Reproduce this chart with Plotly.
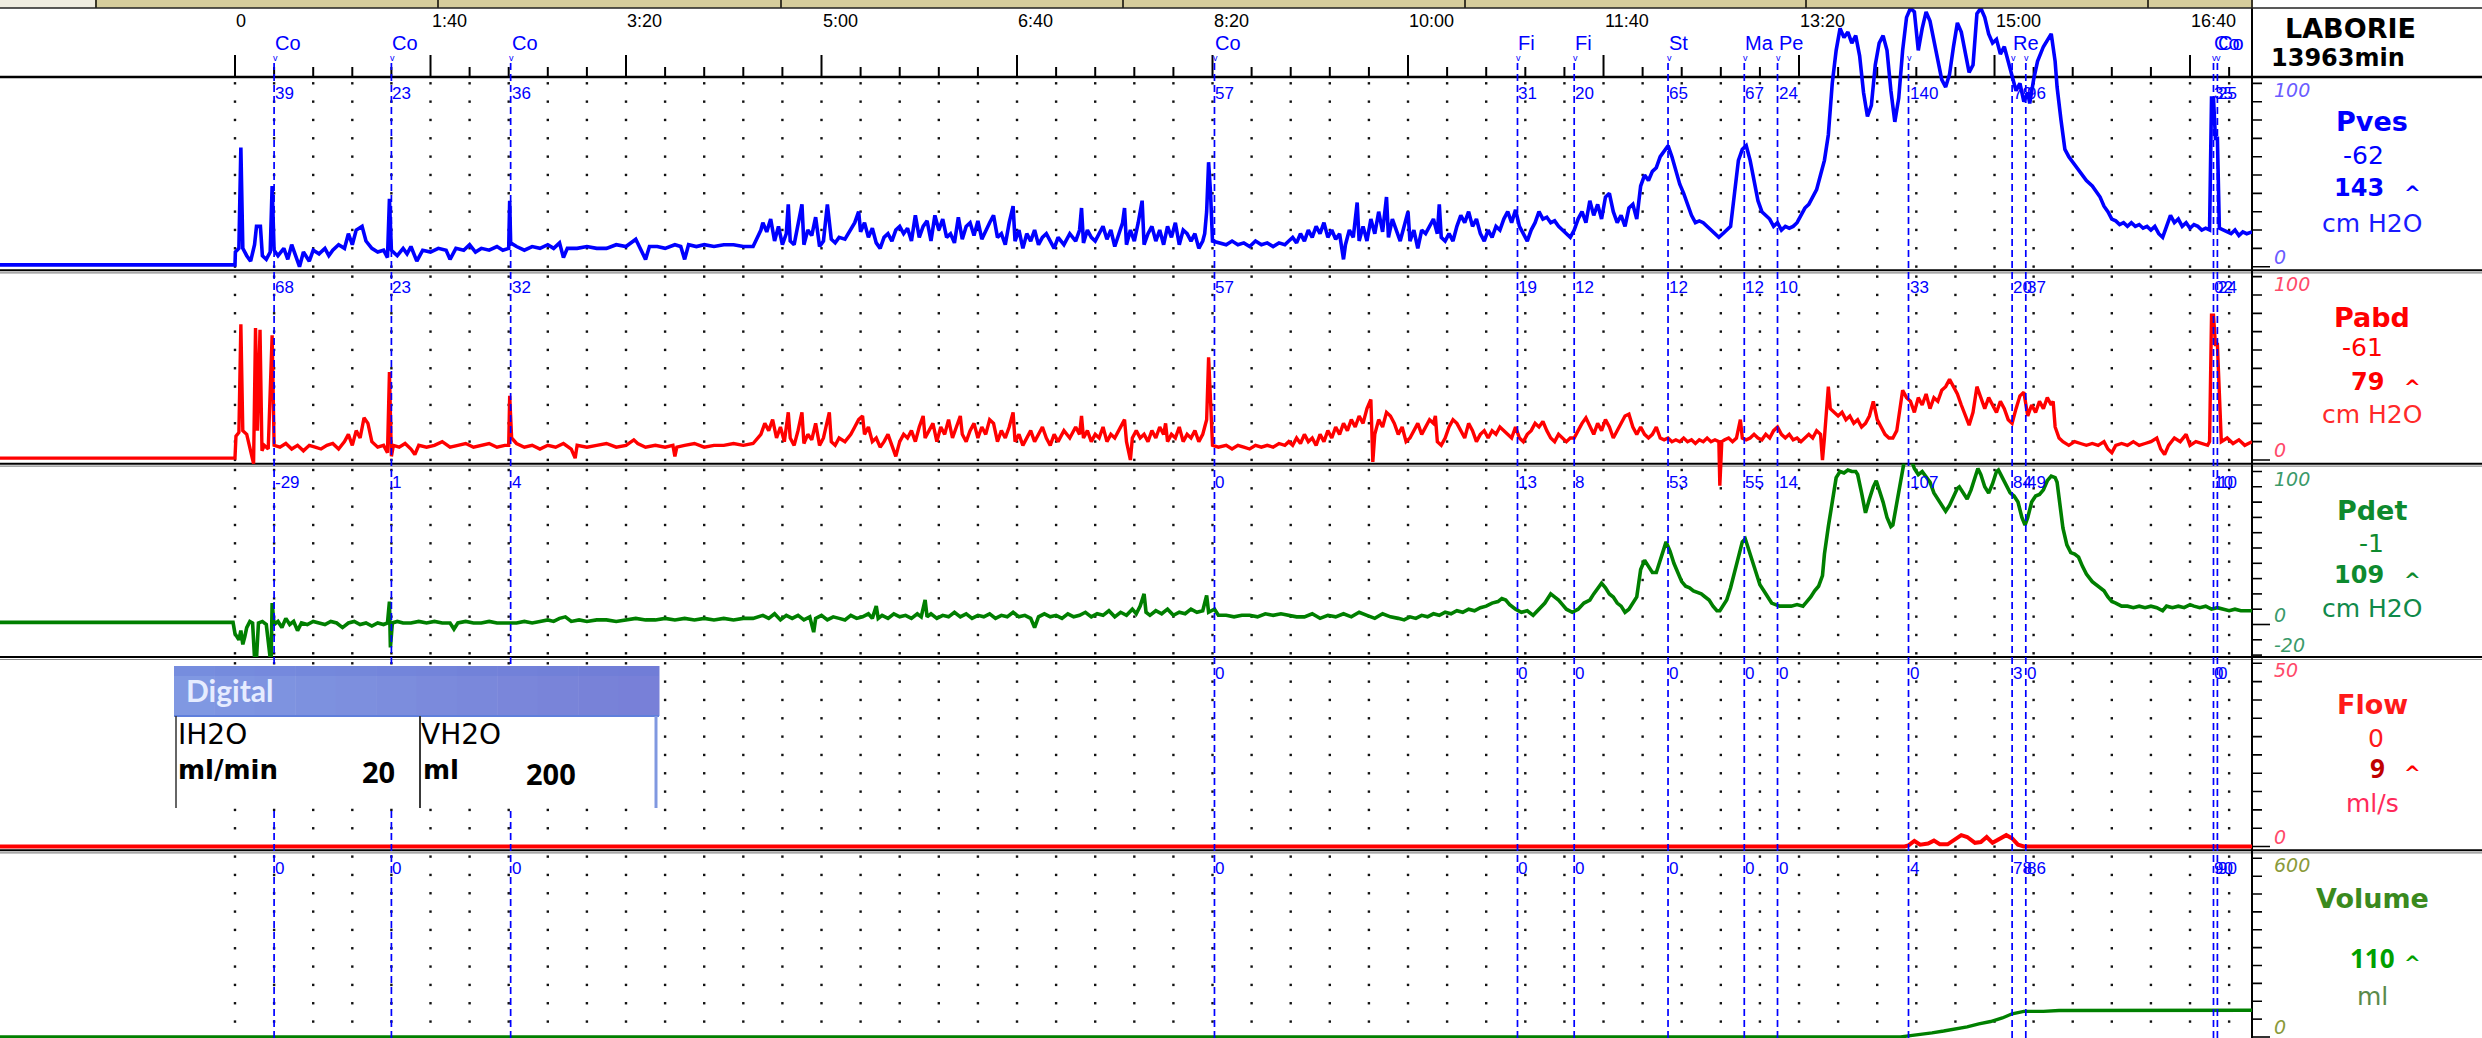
import plotly.graph_objects as go

W, H = 2482, 1038
X_RIGHT = 2252
T_MIN, T_MAX = -120.2, 1031.7

# ---------------- data ----------------
TICK_SECONDS = [0, 100, 200, 300, 400, 500, 600, 700, 800, 900, 1000]
TICK_LABELS = ["0", "1:40", "3:20", "5:00", "6:40", "8:20", "10:00", "11:40", "13:20", "15:00", "16:40"]

MARK_T = [20, 80, 141, 501, 656, 685, 733, 772, 789, 856, 909, 916, 1012, 1014]
MARK_NAME = ["Co", "Co", "Co", "Co", "Fi", "Fi", "St", "Ma", "Pe", "", "Re", "", "Co", "Co"]
PVES_LBL = ["39", "23", "36", "57", "31", "20", "65", "67", "24", "140", "79", "96", "35", "25"]
PABD_LBL = ["68", "23", "32", "57", "19", "12", "12", "12", "10", "33", "20", "37", "02", "24"]
PDET_LBL = ["-29", "1", "4", "0", "13", "8", "53", "55", "14", "107", "84", "49", "10", "10"]
FLOW_LBL = ["", "", "", "0", "0", "0", "0", "0", "0", "0", "3", "0", "0", "0"]
VOL_LBL = ["0", "0", "0", "0", "0", "0", "0", "0", "0", "4", "78", "86", "90", "90"]

PVES = [
    (-120.2, 1), (0, 1), (0.2, 8), (2, 10), (3, 65), (4, 10), (6, 6), (8, 3), (10, 12), (11, 22), (13, 22), (14, 6), (16, 4), (18, 8), (19, 44), (20, 9), (22, 6), (25, 10), (27, 4), (29, 12), (31, 6), (33, 0), (35, 8), (38, 3), (40, 9), (43, 7), (46, 10), (48, 6), (50, 9), (53, 12), (56, 10), (58, 18), (60, 12), (62, 20), (65, 22), (67, 14), (70, 10), (73, 8), (76, 9), (78, 5), (79, 37), (80, 9), (83, 6), (86, 10), (88, 7), (90, 11), (93, 3), (96, 9), (100, 8), (104, 10), (108, 9), (110, 4), (113, 10), (117, 9), (120, 12), (123, 8), (126, 10), (130, 9), (134, 11), (137, 9), (140, 10), (140.5, 36), (141, 13), (144, 11), (148, 9), (152, 11), (156, 10), (160, 12), (163, 10), (166, 13), (168, 5), (170, 10), (175, 10), (180, 11), (185, 10), (190, 10), (195, 12), (200, 11), (205, 15), (208, 9), (210, 4), (212, 11), (216, 11), (220, 10), (225, 12), (228, 11), (230, 4), (232, 12), (236, 11), (240, 12), (245, 11), (250, 12), (255, 12), (260, 11), (265, 11),
    (269, 20), (270, 24), (272, 19), (274, 26), (276, 14), (278, 22), (280, 12), (282, 18), (283, 34), (284, 14), (286, 12), (288, 22), (290, 34), (291, 12), (293, 20), (295, 17), (297, 27), (299, 11), (301, 14), (303, 34), (305, 15), (307, 13), (309, 16), (312, 15), (315, 20), (317, 24), (319, 30), (320, 19), (322, 24), (324, 16), (326, 21), (328, 13), (330, 10), (332, 16), (334, 18), (336, 14), (338, 20), (340, 22), (342, 18), (344, 21), (346, 14), (348, 28), (350, 16), (352, 22), (354, 25), (356, 14), (358, 28), (360, 20), (362, 26), (364, 16), (366, 18), (368, 13), (370, 27), (372, 15), (374, 22), (376, 24), (378, 17), (380, 25), (382, 15), (384, 20), (386, 24), (388, 28), (390, 16),
    (392, 18), (394, 12), (396, 24), (398, 33), (399, 14), (401, 20), (403, 10), (405, 18), (407, 14), (409, 20), (411, 12), (413, 16), (415, 18), (417, 14), (419, 10), (421, 16), (424, 12), (427, 18), (430, 14), (432, 20), (433, 32), (434, 13), (436, 20), (438, 16), (440, 14), (442, 18), (444, 22), (446, 15), (448, 20), (450, 11), (452, 18), (454, 24), (455, 32), (456, 12), (458, 20), (460, 14), (462, 24), (464, 36), (465, 12), (467, 18), (469, 22), (471, 14), (473, 20), (475, 12), (477, 22), (479, 16), (481, 24), (483, 12), (485, 20), (487, 18), (489, 14), (491, 18), (493, 10), (495, 14), (496, 18), (497, 30), (498, 57), (499, 40), (500, 14),
    (503, 13), (507, 12), (510, 14), (513, 12), (516, 13), (519, 11), (522, 14), (525, 12), (528, 13), (531, 11), (534, 13), (537, 12), (539, 14), (541, 16), (543, 13), (545, 18), (547, 14), (549, 20), (551, 16), (553, 22), (555, 18), (557, 24), (559, 16), (561, 20), (563, 15), (565, 18), (567, 4), (568, 12), (570, 20), (572, 16), (574, 35), (575, 14), (577, 22), (579, 14), (581, 26), (583, 18), (585, 30), (587, 19), (589, 38), (590, 16), (592, 26), (594, 20), (596, 14), (598, 22), (600, 30), (601, 14), (603, 20), (605, 10), (607, 20), (609, 18), (611, 22), (613, 26), (615, 18), (616, 34), (617, 16), (619, 14), (621, 18), (623, 14), (625, 22), (627, 28), (629, 24), (631, 30), (633, 22), (635, 26), (637, 18), (639, 14), (641, 20), (643, 16), (645, 22), (647, 20), (649, 26), (651, 30), (653, 24), (655, 31), (657, 22), (659, 18), (661, 14), (663, 20), (665, 24), (667, 30), (669, 26), (671, 27), (673, 24), (675, 25), (677, 22), (679, 20), (681, 18), (683, 16), (685, 20), (687, 26), (689, 30), (691, 24), (693, 36), (695, 28), (697, 34), (699, 26), (701, 38), (703, 40), (705, 30), (707, 24), (709, 28), (711, 22), (713, 32), (715, 34), (717, 26),
    (719, 44), (721, 50), (723, 47), (725, 52), (727, 54), (729, 60), (731, 63), (733, 66), (735, 60), (737, 52), (739, 45), (741, 40), (743, 34), (745, 28), (747, 24), (749, 25), (751, 24), (753, 22), (755, 20), (757, 18), (759, 16), (761, 18), (763, 20), (765, 22), (767, 40), (769, 58), (771, 64), (773, 66), (775, 58), (777, 46), (779, 36), (781, 30), (783, 28), (785, 26), (787, 22), (789, 24), (791, 20), (793, 22), (795, 21), (797, 22), (799, 24), (801, 28), (803, 32), (805, 34), (807, 38), (809, 42), (811, 50), (813, 58), (815, 72), (817, 100), (819, 118), (821, 130), (823, 125), (825, 128), (827, 122), (829, 126), (831, 115), (833, 95), (835, 82), (837, 88), (839, 110), (841, 122), (843, 126), (845, 118), (847, 96), (849, 79), (851, 92), (853, 118), (855, 136), (857, 141), (859, 139), (861, 118), (863, 130), (865, 139), (867, 134), (869, 124), (871, 112), (873, 102), (875, 98), (877, 105), (879, 120), (881, 133), (883, 128), (885, 118), (887, 106), (889, 110), (891, 138), (893, 141), (895, 136), (897, 127), (899, 122), (901, 124), (903, 116), (905, 120), (907, 112), (909, 104), (911, 96), (913, 100), (915, 90), (917, 95), (918, 89), (920, 102), (922, 112), (925, 120), (927, 124), (929, 127), (931, 112), (932, 98), (934, 80), (936, 64), (938, 60), (940, 57), (943, 53), (945, 50), (947, 47), (950, 44), (952, 41), (954, 38), (956, 33), (958, 30), (960, 26), (962, 25), (964, 23), (966, 24), (968, 22), (970, 24), (972, 22), (974, 23), (976, 21), (978, 22), (980, 20), (982, 22), (984, 18), (986, 16), (988, 22), (990, 28), (992, 24), (994, 26), (996, 22), (998, 24), (1000, 21), (1002, 23), (1004, 22), (1006, 20), (1008, 21), (1010, 20), (1011, 92), (1012, 92), (1013, 70), (1014, 70), (1015, 21), (1017, 20), (1019, 19), (1021, 18), (1023, 20), (1025, 17), (1027, 19), (1029, 18), (1031.7, 19),
]

PABD = [
    (-120.2, 1), (0, 1), (0.5, 13), (2, 15), (3, 74), (4, 16), (6, 14), (8, 5), (9.5, -2), (10.5, 72), (11.5, 16), (12.8, 71), (13.8, 5), (15, 8), (17, 6), (19, 68), (20, 8), (23, 7), (26, 9), (29, 6), (32, 8), (35, 5), (38, 8), (41, 7), (44, 6), (47, 8), (50, 9), (53, 6), (56, 10), (58, 14), (60, 8), (62, 16), (64, 12), (66, 23), (68, 20), (70, 10), (73, 7), (76, 8), (78, 4), (79, 48), (80, 2), (81, 8), (84, 7), (87, 9), (90, 6), (92, 3), (94, 8), (98, 7), (102, 8), (106, 10), (110, 7), (114, 8), (118, 9), (122, 7), (126, 8), (130, 9), (134, 7), (138, 8), (140, 8), (140.5, 35), (141.5, 12), (144, 9), (148, 7), (152, 8), (156, 6), (160, 8), (164, 7), (168, 9), (172, 6), (174, 1), (175, 8), (180, 7), (185, 8), (190, 9), (195, 7), (200, 8), (204, 11), (206, 9), (210, 7), (215, 8), (220, 7), (224, 8), (225, 2), (226, 7), (230, 8), (235, 9), (240, 7), (245, 8), (250, 8), (255, 9), (260, 8), (265, 9),
    (269, 14), (271, 20), (273, 16), (275, 22), (277, 12), (279, 18), (281, 10), (283, 26), (284, 12), (286, 8), (288, 16), (290, 26), (291, 9), (293, 14), (295, 11), (297, 20), (299, 8), (301, 12), (304, 26), (305, 10), (307, 8), (309, 12), (312, 10), (315, 14), (317, 18), (319, 22), (321, 24), (322, 14), (324, 18), (326, 10), (328, 12), (330, 7), (332, 10), (334, 14), (336, 8), (338, 2), (340, 10), (342, 14), (344, 12), (346, 16), (348, 10), (350, 18), (352, 24), (353, 12), (355, 16), (357, 20), (359, 10), (361, 18), (363, 14), (365, 22), (367, 12), (369, 18), (371, 24), (372, 14), (374, 10), (376, 16), (378, 20), (380, 12), (382, 18), (384, 14), (386, 22), (388, 20), (390, 10),
    (392, 16), (394, 12), (396, 18), (398, 26), (399, 10), (401, 14), (403, 8), (405, 12), (407, 16), (409, 10), (411, 14), (413, 18), (415, 12), (417, 8), (419, 14), (421, 10), (424, 16), (427, 12), (430, 18), (432, 14), (433, 24), (434, 12), (436, 16), (438, 10), (440, 14), (442, 12), (444, 18), (446, 10), (448, 14), (450, 12), (452, 16), (454, 20), (455, 22), (456, 10), (458, 0), (459, 12), (461, 16), (463, 12), (465, 14), (467, 10), (469, 16), (471, 12), (473, 18), (475, 14), (476, 20), (477, 10), (479, 14), (481, 12), (483, 18), (485, 10), (487, 14), (489, 12), (491, 16), (493, 10), (495, 14), (496, 18), (497, 22), (498, 56), (499, 30), (500, 8),
    (503, 7), (507, 8), (510, 6), (513, 8), (516, 7), (519, 6), (522, 8), (525, 7), (528, 8), (531, 7), (534, 9), (537, 8), (539, 10), (541, 8), (543, 12), (545, 9), (547, 14), (549, 10), (551, 12), (553, 8), (555, 14), (557, 10), (559, 16), (561, 12), (563, 18), (565, 14), (567, 20), (569, 16), (571, 22), (573, 18), (575, 24), (577, 20), (579, 28), (581, 33), (582, -1), (583, 14), (585, 22), (587, 18), (589, 26), (591, 24), (593, 20), (595, 14), (597, 18), (599, 10), (601, 12), (603, 16), (605, 20), (607, 14), (609, 18), (611, 22), (613, 20), (614, 24), (615, 10), (617, 8), (619, 12), (621, 18), (623, 22), (625, 20), (627, 16), (629, 12), (631, 20), (633, 16), (635, 10), (637, 14), (639, 16), (641, 12), (643, 16), (645, 14), (647, 18), (649, 16), (651, 14), (653, 12), (655, 18), (657, 12), (659, 10), (661, 14), (663, 16), (665, 20), (667, 18), (669, 21), (671, 16), (673, 12), (675, 10), (677, 14), (679, 12), (681, 10), (683, 12), (685, 12), (687, 16), (689, 20), (691, 23), (693, 18), (695, 14), (697, 20), (699, 16), (701, 22), (703, 18), (705, 12), (707, 16), (709, 20), (711, 24), (713, 25), (715, 18), (717, 14), (719, 18), (721, 14), (723, 12), (725, 14), (727, 18), (729, 12), (731, 11), (733, 12), (735, 10), (737, 11), (739, 10), (741, 12), (743, 10), (745, 11), (747, 9), (749, 11), (751, 10), (753, 12), (755, 10), (757, 11), (759, 10), (759.5, -14), (760.5, 10), (762, 11), (764, 12), (766, 10), (768, 12), (770, 22), (771, 12), (773, 11), (775, 12), (777, 14), (779, 12), (781, 11), (783, 14), (785, 12), (787, 16), (789, 18), (791, 14), (793, 12), (795, 14), (797, 11), (799, 12), (801, 10), (803, 12), (805, 14), (807, 12), (809, 16), (811, 14), (812, 0), (813, 12), (815, 40), (816, 28), (818, 26), (820, 24), (822, 26), (824, 22), (826, 24), (828, 20), (830, 22), (832, 18), (834, 20), (836, 24), (838, 32), (840, 22), (842, 18), (844, 14), (846, 12), (848, 12), (850, 16), (852, 30), (853, 38), (855, 34), (857, 32), (859, 26), (861, 34), (863, 30), (865, 36), (867, 28), (869, 34), (871, 32), (873, 38), (875, 40), (877, 44), (879, 40), (881, 36), (883, 30), (885, 24), (887, 19), (889, 26), (891, 40), (893, 34), (895, 28), (897, 34), (899, 30), (901, 26), (903, 32), (905, 28), (907, 22), (909, 20), (911, 28), (913, 35), (915, 37), (917, 24), (919, 30), (921, 26), (923, 32), (925, 28), (927, 34), (929, 30), (930, 32), (931, 18), (933, 12), (935, 10), (938, 8), (941, 10), (944, 9), (947, 8), (950, 9), (953, 8), (956, 10), (958, 6), (960, 4), (962, 8), (965, 9), (968, 8), (971, 10), (974, 8), (977, 9), (980, 10), (983, 12), (985, 6), (987, 3), (989, 8), (992, 12), (995, 10), (998, 14), (1000, 8), (1003, 10), (1006, 9), (1009, 8), (1010, 10), (1011, 79), (1012, 79), (1013, 63), (1014, 63), (1015, 38), (1016, 10), (1019, 12), (1022, 9), (1025, 11), (1028, 8), (1031.7, 10),
]

PDET = [
    (-120.2, 1.4), (-1, 1.4), (0, -6), (2, -10), (3, -4), (4, -13), (5, -8), (6, -2), (7.6, 2), (9, 1), (10, -22), (11, -22), (12, 1), (14, 2), (16, 0), (18, -22), (18.5, -22), (19, 14), (20, 0), (22, 2), (24, -2), (26, 4), (28, 0), (30, 2), (32, -4), (34, 1), (37, 0), (40, 2), (43, 1), (46, 0), (49, 2), (52, 1), (55, -2), (58, 1), (61, 2), (64, 0), (67, 1), (70, -1), (73, 1), (76, 0), (78, 1), (79, 15), (79.5, -15), (80.5, 1), (83, 2), (86, 1), (90, 1), (94, 2), (98, 1), (102, 2), (106, 1), (110, 1), (112, -3), (114, 1), (118, 2), (122, 1), (126, 1), (130, 2), (134, 1), (138, 1), (141, 1), (144, 1), (148, 2), (152, 1), (156, 2), (160, 3), (163, 2), (166, 4), (169, 5), (172, 2), (176, 3), (180, 2), (185, 3), (190, 3), (195, 2), (200, 3), (205, 4), (210, 3), (215, 3), (220, 4), (225, 3), (230, 4), (235, 3), (240, 4), (245, 3), (250, 4), (255, 3), (260, 4), (265, 4), (270, 6), (273, 4), (276, 7), (279, 3), (282, 6), (285, 4), (288, 6), (291, 3), (294, 5), (296, -5), (297, 4), (300, 6), (303, 3), (306, 5), (309, 4), (312, 3), (315, 6), (318, 4), (321, 5), (324, 7), (326, 4), (328, 12), (329, 4), (331, 6), (334, 4), (337, 7), (340, 5), (343, 6), (346, 4), (349, 7), (351, 5), (353, 16), (354, 5), (356, 7), (359, 4), (362, 6), (365, 5), (368, 8), (371, 5), (374, 7), (377, 4), (380, 6), (383, 5), (386, 7), (389, 4), (392, 6), (395, 5), (398, 8), (401, 5), (404, 6), (407, 4), (409, -2), (411, 5), (414, 7), (417, 5), (420, 6), (423, 4), (426, 7), (429, 5), (432, 6), (435, 8), (438, 5), (441, 7), (444, 6), (447, 9), (450, 5), (453, 8), (456, 6), (459, 10), (461, 7), (463, 12), (465, 20), (466, 8), (468, 6), (471, 9), (474, 7), (477, 10), (480, 6), (483, 8), (486, 7), (489, 10), (492, 8), (495, 9), (497, 19), (498, 8), (501, 10), (503, 6), (507, 6), (511, 5), (515, 6), (519, 6), (523, 5), (527, 7), (531, 6), (535, 7), (539, 6), (543, 5),
    (547, 5), (551, 7), (555, 4), (559, 6), (563, 5), (567, 7), (571, 5), (575, 8), (579, 6), (583, 4), (587, 7), (591, 5), (595, 4), (598, 3), (601, 5), (604, 4), (607, 6), (610, 5), (613, 7), (616, 6), (619, 8), (622, 7), (625, 9), (628, 8), (631, 10), (634, 9), (637, 11), (640, 12), (643, 14), (646, 15), (648, 17), (650, 16), (652, 13), (655, 10), (658, 8), (661, 9), (664, 6), (667, 10), (670, 14), (673, 20), (675, 18), (677, 16), (679, 13), (681, 10), (684, 8), (687, 10), (690, 14), (693, 16), (695, 20), (697, 24), (699, 27), (701, 24), (703, 20), (705, 18), (707, 14), (709, 12), (711, 8), (713, 10), (715, 14), (717, 18), (719, 36), (721, 42), (723, 38), (725, 34), (727, 34), (729, 42), (731, 50), (732, 54), (734, 48), (736, 40), (738, 34), (740, 28), (742, 25), (744, 24), (746, 22), (748, 21), (750, 20), (752, 18), (754, 16), (756, 12), (758, 9), (759.5, 9), (761, 12), (763, 16), (765, 24), (767, 34), (769, 46), (771, 54), (772.5, 56), (774, 50), (776, 42), (778, 34), (780, 26), (782, 22), (784, 18), (786, 14), (788, 13), (790, 12), (793, 12), (796, 12), (799, 13), (802, 12), (804, 15), (806, 18), (808, 22), (810, 25), (812, 32), (813, 46), (815, 64), (817, 80), (819, 96), (821, 100), (823, 99), (825, 101), (827, 100), (829, 100), (830, 98), (832, 86), (834, 73), (836, 82), (838, 90), (839.5, 94), (841, 88), (843, 80), (845, 70), (847, 64), (848, 65), (850, 80), (852, 96), (854, 108), (856, 110), (857, 109), (859, 102), (861, 98), (863, 100), (865, 96), (867, 93), (869, 86), (871, 82), (873, 77), (875, 74), (877, 78), (879, 84), (881, 89), (882, 90), (884, 86), (886, 82), (888, 88), (890, 96), (891.5, 102), (893, 98), (895, 90), (897, 86), (899, 92), (901, 100), (902, 101), (904, 96), (906, 91), (908, 86), (910, 84), (912, 80), (914, 70), (915.6, 65), (917, 70), (919, 80), (921, 84), (923, 85), (925, 88), (927, 94), (929, 97), (931, 96), (932, 93), (934, 72), (935, 63), (937, 52), (939, 47), (941, 46), (943, 44), (945, 38), (947, 33), (950, 28), (953, 25), (956, 22), (958, 18), (960, 15), (962, 14), (965, 12), (968, 12), (971, 11), (974, 12), (977, 11), (980, 12), (983, 11), (986, 9), (988, 12), (991, 11), (994, 12), (997, 11), (1000, 13), (1002, 12), (1005, 11), (1008, 12), (1011, 10), (1014, 11), (1017, 10), (1020, 9), (1023, 10), (1026, 9), (1029, 9), (1031.7, 9),
]

FLOW = [
    (-120.2, 0), (854, 0), (856, 0.3), (859, 1.5), (862, 0.5), (866, 0.8), (869, 1.6), (872, 0.6), (876, 0.6), (880, 2.2), (883, 3.1), (886, 2.6), (890, 1.0), (893, 1.2), (896, 2.6), (899, 1.0), (902, 1.8), (906, 3.1), (909, 2.2), (912, 0.5), (915, 0), (1031.7, 0),
]

VOLUME = [
    (-120.2, 0), (852, 0), (856, 4), (862, 8), (868, 14), (874, 20), (880, 26), (886, 34), (892, 44), (898, 52), (904, 64), (909, 78), (915, 86), (925, 86), (933, 89), (1031.7, 90),
]

CH_NAMES = ["Pves", "Pabd", "Pdet", "Flow", "Volume"]
CH_CUR = ["-62", "-61", "-1", "0", ""]
CH_MAX = ["143", "79", "109", "9", "110"]
CH_UNIT = ["cm H2O", "cm H2O", "cm H2O", "ml/s", "ml"]
CH_TOP_LBL = ["100", "100", "100", "50", "600"]

# ---------------- layout helpers ----------------
def fx(p):
    return p / W

def fy(p):
    return 1 - p / H

# zero pixel row, pixels per unit, domain top px, domain bottom px
GEOM = [
    (266.7, 1.8333, 8.0, 270.3),
    (460.0, 1.8333, 270.3, 490.0),
    (624.5, 1.53, 463.7, 657.0),
    (846.5, 3.664, 657.0, 850.3),
    (1037.0, 0.2978, 850.3, 1038.0),
]
PANEL_TOPS = [77.0, 270.3, 463.7, 657.0, 850.3]
LINE_COLORS = ["#0000ff", "#ff0000", "#007f00", "#ff0000", "#008000"]
LINE_W = [3.6, 3.4, 3.6, 4.0, 3.4]
SERIES = [PVES, PABD, PDET, FLOW, VOLUME]
LBLS = [PVES_LBL, PABD_LBL, PDET_LBL, FLOW_LBL, VOL_LBL]
LBL_Y = [93, 288, 482, 673, 868]

fig = go.Figure()

# grid dots (pixel overlay axis 'y')
dot_x, dot_y = [], []
for top in PANEL_TOPS:
    for k in range(11):
        yy = top + 6.3 + 18.33 * k
        for t in range(0, 1021, 20):
            dot_x.append(t)
            dot_y.append(yy)
fig.add_trace(go.Scatter(x=dot_x, y=dot_y, mode="markers", xaxis="x", yaxis="y",
                         marker=dict(symbol="square", size=2.4, color="#111111", line=dict(width=0)),
                         hoverinfo="skip"))

for i, ser in enumerate(SERIES):
    fig.add_trace(go.Scatter(x=[p[0] for p in ser], y=[p[1] for p in ser], mode="lines",
                             xaxis="x", yaxis="y%d" % (i + 2),
                             line=dict(color=LINE_COLORS[i], width=LINE_W[i]), hoverinfo="skip"))

axes = {}
axes["xaxis"] = dict(domain=[0, fx(X_RIGHT)], range=[T_MIN, T_MAX], visible=False, anchor="y", fixedrange=True)
axes["yaxis"] = dict(domain=[0, 1], range=[H, 0], visible=False, anchor="x", fixedrange=True)
for i, (z, k, top, bot) in enumerate(GEOM):
    axes["yaxis%d" % (i + 2)] = dict(domain=[fy(bot), fy(top)], range=[(z - bot) / k, (z - top) / k],
                                     visible=False, anchor="x", fixedrange=True)

shapes = []
def line(x0, y0, x1, y1, color="black", width=2, xref="paper", yref="paper", dash=None, layer="below"):
    d = dict(type="line", x0=x0, y0=y0, x1=x1, y1=y1, xref=xref, yref=yref, layer=layer,
             line=dict(color=color, width=width))
    if dash:
        d["line"]["dash"] = dash
    shapes.append(d)

def rect(x0, y0, x1, y1, fill, layer="above"):
    shapes.append(dict(type="rect", x0=fx(x0), x1=fx(x1), y0=fy(y1), y1=fy(y0), xref="paper", yref="paper",
                       fillcolor=fill, line=dict(width=0), layer=layer))

# header axis line & panel borders
line(0, fy(77), 1, fy(77), width=2.5)
for b in PANEL_TOPS[1:]:
    line(0, fy(b), 1, fy(b), width=2)
    line(0, fy(b + 2.5), 1, fy(b + 2.5), color="#8a8a8a", width=1.2)
# vertical divider
line(fx(X_RIGHT), fy(8), fx(X_RIGHT), 0, width=2)

# time ticks
for t in range(0, 1021, 20):
    top = 55 if t % 100 == 0 else 67
    line(t, fy(top), t, fy(77), xref="x", width=2)

# right-side value ticks
TICK_SETS = [list(range(0, 101, 10)), list(range(0, 101, 10)), list(range(-20, 101, 10)),
             list(range(0, 51, 5)), list(range(0, 601, 60))]
for i, vals in enumerate(TICK_SETS):
    for v in vals:
        x1 = 2270 if v == 0 else 2262
        line(fx(X_RIGHT), v, fx(x1), v, yref="y%d" % (i + 2), width=1.6)

# tab bar
tab_edges = [0, 96, 438, 781, 1123, 1465, 1806, 2148, 2252]
for j in range(len(tab_edges) - 1):
    rect(tab_edges[j], 0, tab_edges[j + 1], 8, "#efece0" if j == 0 else "#d6cd9c")
for e in tab_edges[1:]:
    line(fx(e), 1, fx(e), fy(8), color="#3c3828", width=2, layer="above")
line(0, fy(8), 1, fy(8), color="#222222", width=1.5, layer="above")

# event marker dashed lines
for t in MARK_T:
    line(t, fy(63), t, 0, xref="x", color="#0000ff", width=1.7, dash="7px,4px", layer="above")

# Digital box
box_l, box_r, box_t, box_m, box_b = 174, 659, 666, 716, 808
n = 12
for j in range(n):
    a = j / (n - 1)
    r = int(128 + (120 - 128) * a)
    g = int(152 + (128 - 152) * a)
    b_ = int(226 + (216 - 226) * a)
    rect(box_l + (box_r - box_l) * j / n, box_t, box_l + (box_r - box_l) * (j + 1) / n + 0.5, box_m,
         "rgb(%d,%d,%d)" % (r, g, b_))
rect(box_l, box_t, box_r, box_t + 10, "rgba(100,120,215,0.35)")
rect(box_l, box_m, box_r, box_b, "white")
line(fx(box_l), fy(box_m), fx(box_r), fy(box_m), color="#5f7fdc", width=2, layer="above")
line(fx(box_l + 2), fy(box_m), fx(box_l + 2), fy(box_b), color="#333333", width=1.5, layer="above")
line(fx(box_r - 3), fy(box_m), fx(box_r - 3), fy(box_b), color="#8098e0", width=3, layer="above")
line(fx(420), fy(box_m), fx(420), fy(box_b), color="#3a3a3a", width=2, layer="above")

# ---------------- annotations ----------------
ann = []
def text(s, x, y, size, color, family="DejaVu Sans", xanchor="center", yanchor="middle",
         xref="paper", bold=False, italic=False, xshift=0):
    if bold:
        s = "<b>%s</b>" % s
    if italic:
        s = "<i>%s</i>" % s
    ann.append(dict(text=s, x=x if xref != "paper" else fx(x), y=fy(y), xref=xref, yref="paper",
                    showarrow=False, xanchor=xanchor, yanchor=yanchor, xshift=xshift,
                    font=dict(size=size, color=color, family=family)))

for t, lab in zip(TICK_SECONDS, TICK_LABELS):
    text(lab, t, 21, 18, "black", family="Liberation Sans, Arial", xref="x", xanchor="left", xshift=-1)

for t, nm in zip(MARK_T, MARK_NAME):
    if nm:
        text(nm, t, 43, 20, "#0000ff", family="Liberation Sans, Arial", xref="x", xanchor="left", xshift=-1)
    text("v", t, 58, 9, "#0000ff", family="Liberation Sans, Arial", xref="x", xshift=1)

for ci, labels in enumerate(LBLS):
    for t, lab in zip(MARK_T, labels):
        if lab:
            text(lab, t, LBL_Y[ci], 17, "#0000ff", family="Liberation Sans, Arial", xref="x",
                 xanchor="left", xshift=-1)

# header right
text("LABORIE", 2350, 28, 27, "black", family="DejaVu Sans", bold=True)
text("13963min", 2338, 58, 24, "black", family="DejaVu Sans", bold=True)

# right panel labels
NAME_COL = ["#0000ff", "#ff0000", "#0e8a2e", "#ff1a1a", "#3a8a1e"]
UNIT_COL = ["#1a1aff", "#ff2a2a", "#108a4a", "#ff2a5a", "#5a8a4a"]
AXL_COL = ["#6a5cff", "#ff4a6a", "#3a9a6a", "#ff4a6a", "#8a9a3a"]
MAX_COL = ["#0000ff", "#ff0000", "#0e8a2e", "#c00000", "#00a000"]
rows = [  # name_y, cur_y, max_y, unit_y
    (122, 155, 188, 223),
    (317, 348, 382, 414),
    (510, 543, 575, 608),
    (704, 738, 768, 803),
    (898, None, 958, 996),
]
max_x = [2359, 2367, 2359, 2377, 2372]
cur_x = [2363, 2362, 2371, 2376, 2372]
for i in range(5):
    ny, cy, my, uy = rows[i]
    text(CH_NAMES[i], 2372, ny, 27, NAME_COL[i], bold=True)
    if cy is not None and CH_CUR[i]:
        text(CH_CUR[i], cur_x[i], cy, 25, NAME_COL[i])
    if i >= 3:
        text(CH_MAX[i], max_x[i], my, 26, MAX_COL[i], family="Open Sans", bold=True)
    else:
        text(CH_MAX[i], max_x[i], my, 24, MAX_COL[i], bold=True)
    text("^", 2412, my + 5, 20, MAX_COL[i] if i != 3 else "#ff0000", bold=True)
    text(CH_UNIT[i], 2372, uy, 25, UNIT_COL[i])

# right axis numbers
TOP_V = [100, 100, 100, 50, 600]
BOT_V = [0, 0, -20, 0, 0]
for i in range(5):
    z, k, _, _ = GEOM[i]
    ytop = z - TOP_V[i] * k + 7
    ybot = z - BOT_V[i] * k - 10
    text(CH_TOP_LBL[i], 2272, ytop, 19, AXL_COL[i], xanchor="left", italic=True)
    text(str(BOT_V[i]), 2272, ybot, 19, AXL_COL[i], xanchor="left", italic=True)
    if i == 2:
        text("0", 2272, z - 10, 19, AXL_COL[i], xanchor="left", italic=True)

# Digital box texts
text("Digital", 184, 690, 30, "#e6ecff", family="Lato", xanchor="left", bold=True)
text("IH2O", 176, 734, 28, "black", xanchor="left")
text("ml/min", 176, 770, 26, "black", xanchor="left", bold=True)
text("20", 378, 771, 29, "black", family="Open Sans", bold=True)
text("VH2O", 419, 734, 28, "black", xanchor="left")
text("ml", 421, 770, 26, "black", xanchor="left", bold=True)
text("200", 551, 773, 29, "black", family="Open Sans", bold=True)

fig.update_layout(width=W, height=H, margin=dict(l=0, r=0, t=0, b=0), paper_bgcolor="white",
                  plot_bgcolor="rgba(0,0,0,0)", showlegend=False, shapes=shapes, annotations=ann, **axes)
fig.write_html("out.html", config={"displayModeBar": False, "staticPlot": True},
               post_script="document.body.style.margin='0px';document.body.style.padding='0px';")
